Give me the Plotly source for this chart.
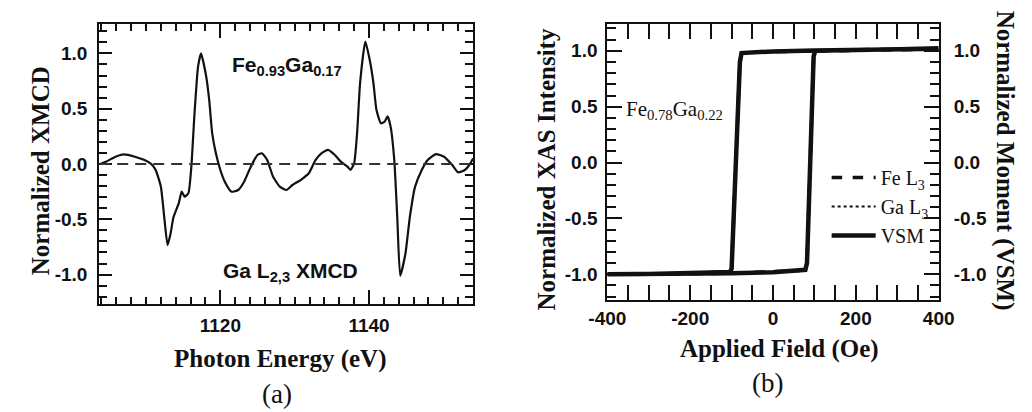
import plotly.graph_objects as go

W, H = 1032, 412

# ---------- Panel (a): Ga L2,3 XMCD ----------
energy_ev = [1103.8, 1104.6, 1105.9, 1107.0, 1108.5, 1109.8, 1110.7, 1111.3, 1112.0, 1112.4,
             1112.9, 1113.3, 1113.7, 1114.4, 1114.8, 1115.2, 1115.7, 1116.1, 1116.5, 1117.0,
             1117.4, 1118.1, 1118.5, 1118.9, 1119.4, 1120.0, 1120.6, 1121.5, 1122.4, 1123.2,
             1124.1, 1125.0, 1125.6, 1126.3, 1127.1, 1128.0, 1128.9, 1129.7, 1130.8, 1131.9,
             1132.8, 1133.6, 1134.5, 1135.4, 1136.2, 1137.1, 1137.5, 1138.0, 1138.4, 1138.8,
             1139.5, 1140.1, 1140.6, 1141.0, 1141.6, 1142.1, 1142.5, 1142.9, 1143.4, 1143.8,
             1144.2, 1144.9, 1145.5, 1146.2, 1147.1, 1147.9, 1149.0, 1150.1, 1151.2, 1152.0,
             1152.9, 1153.5, 1154.0]
xmcd = [0.0, 0.02, 0.066, 0.087, 0.066, 0.036, 0.0, -0.054, -0.205, -0.446,
        -0.733, -0.63, -0.48, -0.356, -0.25, -0.296, -0.265, -0.024, 0.43, 0.88,
        1.0, 0.79, 0.58, 0.28, 0.097, -0.054, -0.16, -0.25, -0.235, -0.16,
        -0.024, 0.081, 0.097, 0.036, -0.115, -0.205, -0.235, -0.19, -0.145, -0.084,
        0.036, 0.097, 0.127, 0.081, 0.021, -0.024, -0.054, 0.006, 0.28, 0.73,
        1.107, 0.94, 0.73, 0.49, 0.368, 0.383, 0.43, 0.34, 0.036, -0.477,
        -1.01, -0.81, -0.477, -0.205, -0.054, 0.036, 0.09, 0.066, -0.009, -0.075,
        -0.054, -0.009, 0.05]

# ---------- Panel (b): hysteresis loops ----------
field_oe = [-400, -300, -200, -100, 0, 50, 78, 82, 98, 102, 200, 300, 400,
            400, 300, 200, 100, 0, -50, -76, -80, -100, -104, -200, -300, -400]
fe_l3 = [-1.0, -1.0, -0.995, -0.99, -0.98, -0.97, -0.96, -0.9, 0.95, 1.0, 1.01, 1.015, 1.015,
         1.015, 1.015, 1.01, 1.0, 0.995, 0.99, 0.98, 0.9, -0.95, -0.98, -0.99, -1.0, -1.0]
ga_l3 = [-1.005, -1.0, -0.995, -0.99, -0.98, -0.972, -0.962, -0.9, 0.95, 1.0, 1.01, 1.012, 1.015,
         1.015, 1.012, 1.01, 1.0, 0.995, 0.99, 0.978, 0.9, -0.95, -0.985, -0.99, -1.0, -1.005]
vsm = [-1.0, -0.998, -0.995, -0.99, -0.982, -0.97, -0.96, -0.9, 0.95, 1.0, 1.01, 1.015, 1.018,
       1.018, 1.015, 1.01, 1.002, 0.995, 0.99, 0.98, 0.9, -0.95, -0.98, -0.99, -0.998, -1.0]
xmcd_ticks = [1120, 1140]
field_ticks = [-400, -200, 0, 200, 400]
field_labels = ["-400", "-200", "0", "200", "400"]
y_ticks = [-1.0, -0.5, 0.0, 0.5, 1.0]
y_labels = ["-1.0", "-0.5", "0.0", "0.5", "1.0"]

SANS = "Liberation Sans"
SERIF = "Liberation Serif"
INK = "#111111"

fig = go.Figure()
fig.add_trace(go.Scatter(x=energy_ev, y=xmcd, mode="lines",
                         line=dict(color=INK, width=2.2, shape="spline", smoothing=0.5),
                         xaxis="x", yaxis="y", showlegend=False))
fig.add_trace(go.Scatter(x=field_oe, y=fe_l3, mode="lines", name="Fe L<sub>3</sub>",
                         line=dict(color=INK, width=3.5, dash="dash"), xaxis="x2", yaxis="y2"))
fig.add_trace(go.Scatter(x=field_oe, y=ga_l3, mode="lines", name="Ga L<sub>3</sub>",
                         line=dict(color=INK, width=2, dash="dot"), xaxis="x2", yaxis="y2"))
fig.add_trace(go.Scatter(x=field_oe, y=vsm, mode="lines", name="VSM",
                         line=dict(color=INK, width=4.5), xaxis="x2", yaxis="y3"))

fig.add_hline(y=0, line=dict(color="#333333", width=2, dash="11px,7px"), xref="x", yref="y")


def px(v):
    return v / W


def py(v):
    return 1 - v / H


tickfont = dict(family=SANS, size=19, color=INK, weight="bold")
common = dict(showline=True, linewidth=2, linecolor=INK, mirror="allticks", ticks="inside",
              tickwidth=2, tickcolor=INK, showgrid=False, zeroline=False, tickfont=tickfont)

fig.update_layout(
    width=W, height=H, margin=dict(l=0, r=0, t=0, b=0),
    paper_bgcolor="white", plot_bgcolor="white",
    xaxis=dict(domain=[px(83), px(470)], range=[1103.7, 1154], anchor="y",
               tickvals=xmcd_ticks, ticklen=14, ticklabelstandoff=3,
               minor=dict(dtick=2, tick0=1100, ticklen=7, tickwidth=2, tickcolor=INK, ticks="inside"),
               **common),
    yaxis=dict(domain=[py(304), py(24)], range=[-1.266, 1.266], anchor="x",
               tickvals=y_ticks, ticktext=y_labels, ticklen=13,
               ticklabelstandoff=6,
               minor=dict(dtick=0.1, tick0=0, ticklen=8, tickwidth=2, tickcolor=INK, ticks="inside"),
               **common),
    xaxis2=dict(domain=[px(609), px(952)], range=[-400, 400], anchor="y2",
                tickvals=field_ticks, ticktext=field_labels, ticklen=15, ticklabelstandoff=0,
                minor=dict(dtick=50, tick0=0, ticklen=7, tickwidth=2, tickcolor=INK, ticks="inside"),
                **common),
    yaxis2=dict(domain=[py(300), py(24)], range=[-1.23, 1.24], anchor="x2",
                tickvals=y_ticks, ticktext=y_labels, ticklen=15,
                ticklabelstandoff=4,
                minor=dict(dtick=0.1, tick0=0, ticklen=9, tickwidth=2, tickcolor=INK, ticks="inside"),
                **common),
    yaxis3=dict(overlaying="y2", side="right", anchor="x2", range=[-1.23, 1.24],
                tickvals=y_ticks, ticktext=y_labels, ticks="",
                showline=False, showgrid=False, zeroline=False, tickfont=tickfont,
                ticklabelstandoff=14),
    legend=dict(x=px(836), y=py(158), xanchor="left", yanchor="top",
                font=dict(family=SERIF, size=20, color=INK), bgcolor="rgba(0,0,0,0)",
                tracegroupgap=0, itemwidth=44),
    showlegend=True,
)

serif_bold = dict(family=SERIF, size=25, color=INK, weight="bold")
ann = [
    dict(text="Normalized XMCD", x=px(23), y=py(171), textangle=-90, font=serif_bold),
    dict(text="Photon Energy (eV)", x=px(270), y=py(359), font=serif_bold),
    dict(text="(a)", x=px(267), y=py(394), font=dict(family=SERIF, size=27, color=INK)),
    dict(text="Fe<sub>0.93</sub>Ga<sub>0.17</sub>", x=px(277), y=py(66),
         font=dict(family=SANS, size=21, color=INK, weight="bold")),
    dict(text="Ga L<sub>2,3</sub> XMCD", x=px(281), y=py(272),
         font=dict(family=SANS, size=21, color=INK, weight="bold")),
    dict(text="Normalized XAS Intensity", x=px(545), y=py(170), textangle=-90, font=serif_bold),
    dict(text="Normalized Moment (VSM)", x=px(1021), y=py(161), textangle=90, font=serif_bold),
    dict(text="Applied Field (Oe)", x=px(787), y=py(349), font=serif_bold),
    dict(text="(b)", x=px(775), y=py(383), font=dict(family=SERIF, size=27, color=INK)),
    dict(text="Fe<sub>0.78</sub>Ga<sub>0.22</sub>", x=px(679), y=py(110),
         font=dict(family=SERIF, size=21, color=INK)),
]
for a in ann:
    a.update(xref="paper", yref="paper", showarrow=False, xanchor="center", yanchor="middle")
fig.update_layout(annotations=ann)

fig.write_html("out.html", config={"displayModeBar": False},
               post_script="document.body.style.margin='0';document.body.style.overflow='hidden';")
